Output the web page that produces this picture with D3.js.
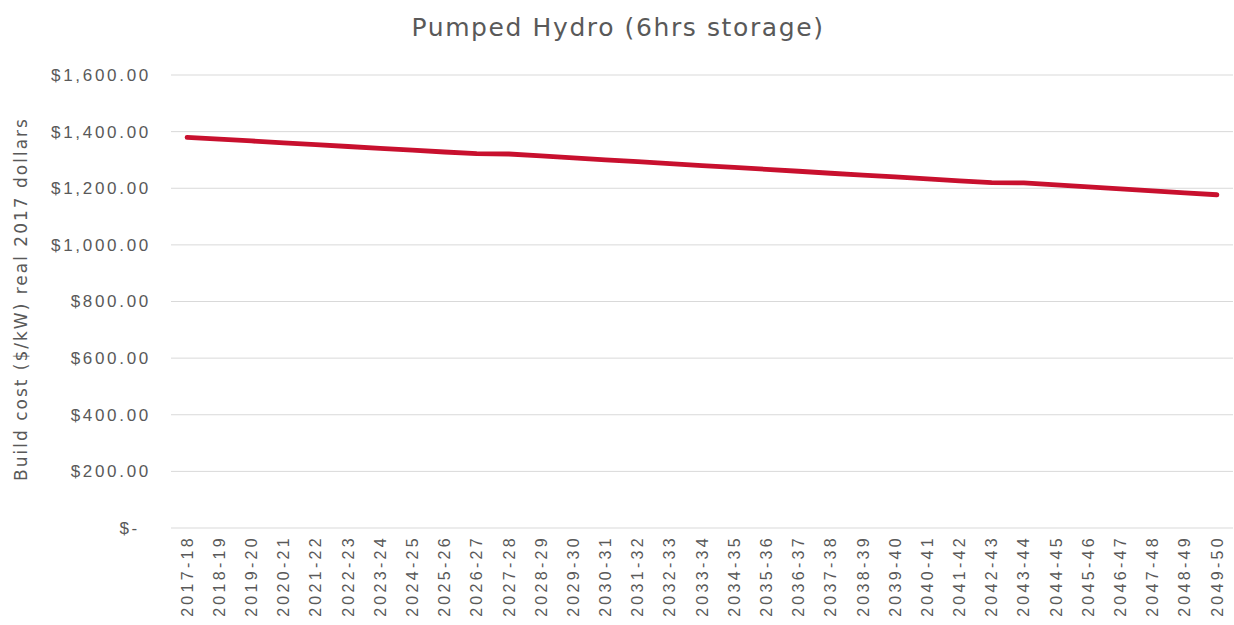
<!DOCTYPE html>
<html>
<head>
<meta charset="utf-8">
<script src="https://cdn.jsdelivr.net/npm/d3@7"></script>
<style>
  html, body { margin: 0; padding: 0; background: #fff; }
  svg { display: block; font-family: "DejaVu Sans", "Open Sans", sans-serif; }
</style>
</head>
<body>
<svg id="chart" width="1234" height="625"></svg>
<script>
// Financial years on the category axis
const years = [
  "2017-18","2018-19","2019-20","2020-21","2021-22","2022-23","2023-24","2024-25",
  "2025-26","2026-27","2027-28","2028-29","2029-30","2030-31","2031-32","2032-33",
  "2033-34","2034-35","2035-36","2036-37","2037-38","2038-39","2039-40","2040-41",
  "2041-42","2042-43","2043-44","2044-45","2045-46","2046-47","2047-48","2048-49","2049-50"
];

// Build cost, $/kW in real 2017 dollars
const buildCost = [
  1380, 1373.5, 1367, 1360.5, 1354, 1347.5, 1341, 1334.5,
  1328, 1322, 1321, 1314, 1307, 1300.5, 1294, 1287,
  1280, 1273.5, 1267, 1260, 1253, 1246.5, 1240, 1233,
  1226, 1220, 1219, 1212, 1205, 1198, 1191, 1184, 1177
];

// Value-axis ticks
const yTicks = [0, 200, 400, 600, 800, 1000, 1200, 1400, 1600];

const title = "Pumped Hydro (6hrs storage)";
const yTitle = "Build cost ($/kW) real 2017 dollars";

const svg = d3.select("#chart");
const margin = { top: 75, right: 1, bottom: 97, left: 171 };
const W = 1234;
const innerW = W - margin.left - margin.right;
const innerH = 528 - margin.top;

const g = svg.append("g").attr("transform", `translate(${margin.left},${margin.top})`);

const x = d3.scaleBand().domain(years).range([0, innerW]).padding(0);
const y = d3.scaleLinear().domain([0, 1600]).range([innerH, 0]);

const fmt = v => v === 0 ? "$-" : "$" + d3.format(",.2f")(v);
const textColor = "#595959";

// Horizontal gridlines
g.append("g")
  .selectAll("line")
  .data(yTicks)
  .join("line")
  .attr("x1", 0).attr("x2", innerW)
  .attr("y1", d => y(d)).attr("y2", d => y(d))
  .attr("stroke", "#d9d9d9")
  .attr("stroke-width", 1);

// Y axis labels
const yAxis = g.append("g")
  .call(d3.axisLeft(y).tickValues(yTicks).tickFormat(fmt).tickSize(0).tickPadding(20));
yAxis.select(".domain").remove();
yAxis.selectAll("text")
  .attr("fill", textColor)
  .style("font-size", "17px")
  .style("letter-spacing", "2.7px");
yAxis.selectAll("text").filter(d => d === 0).attr("dx", "-11");

// X axis labels (rotated)
const xAxis = g.append("g")
  .attr("transform", `translate(0,${innerH})`)
  .call(d3.axisBottom(x).tickSize(0).tickPadding(0));
xAxis.select(".domain").remove();
xAxis.selectAll("text")
  .attr("fill", textColor)
  .style("font-size", "16px")
  .style("letter-spacing", "3.3px")
  .attr("text-anchor", "end")
  .attr("transform", "rotate(-90)")
  .attr("x", -7)
  .attr("y", 0)
  .attr("dy", "0.35em");

// Cost line
const line = d3.line()
  .x((d, i) => x(years[i]) + x.bandwidth() / 2)
  .y(d => y(d));

g.append("path")
  .datum(buildCost)
  .attr("d", line)
  .attr("fill", "none")
  .attr("stroke", "#c8102e")
  .attr("stroke-width", 4.8)
  .attr("stroke-linecap", "round")
  .attr("stroke-linejoin", "round");

// Title
svg.append("text")
  .attr("x", 618).attr("y", 36)
  .attr("text-anchor", "middle")
  .attr("fill", textColor)
  .style("font-size", "25px")
  .style("letter-spacing", "1.6px")
  .text(title);

// Y axis title
svg.append("text")
  .attr("transform", `translate(27,${margin.top + 224}) rotate(-90)`)
  .attr("text-anchor", "middle")
  .attr("fill", textColor)
  .style("font-size", "17px")
  .style("letter-spacing", "2px")
  .text(yTitle);
</script>
</body>
</html>
